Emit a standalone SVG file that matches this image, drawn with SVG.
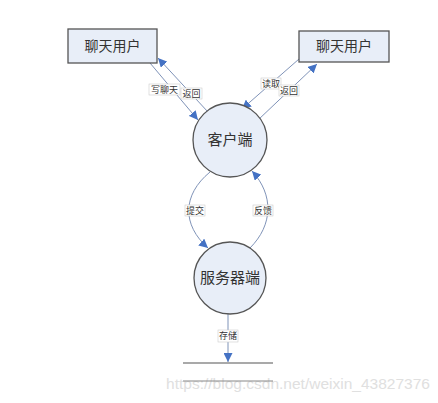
<svg xmlns="http://www.w3.org/2000/svg" width="438" height="403" viewBox="0 0 438 403">
<defs>
<marker id="ah" viewBox="0 0 10 10" refX="10" refY="5" markerWidth="9" markerHeight="9" markerUnits="userSpaceOnUse" orient="auto">
<path d="M0,0 L10,5 L0,10 Z" fill="#4472C4"/>
</marker>
</defs>
<style>
.node{fill:#E8EEF8;stroke:#555;stroke-width:1.3}
.t{font-family:"Liberation Serif","Noto Sans CJK SC",serif;fill:#333;text-anchor:middle;dominant-baseline:central}
.big{font-size:14px}
.lbl{font-size:9px}
.lb{fill:#fff;stroke:#ccc;stroke-width:0.6}
.c{fill:none;stroke:#7F93B8;stroke-width:1;marker-end:url(#ah)}
.wm{font-family:"Liberation Sans",Arial,sans-serif;font-size:14px;fill:#e0e0e0}
</style>
<rect width="438" height="403" fill="#fff"/>
<text class="wm" x="166" y="389" textLength="264" lengthAdjust="spacingAndGlyphs">https://blog.csdn.net/weixin_43827376</text>
<g id="connectors">
<line class="c" x1="150" y1="63" x2="198" y2="120"/>
<line class="c" x1="208" y1="112" x2="158" y2="58"/>
<line class="c" x1="299" y1="59" x2="242" y2="109"/>
<line class="c" x1="258" y1="120" x2="317" y2="64"/>
<path class="c" d="M210,172 C182,195 182,225 208,248"/>
<path class="c" d="M250,248 C273,225 274,195 252,171"/>
<line class="c" x1="228" y1="313" x2="228" y2="362"/>
<rect class="lb" x="149" y="84" width="31" height="11"/>
<text class="t lbl" x="164.5" y="89.5">写聊天</text>
<rect class="lb" x="181" y="88" width="21" height="11"/>
<text class="t lbl" x="191.5" y="93.5">返回</text>
<rect class="lb" x="261" y="78" width="20" height="11"/>
<text class="t lbl" x="271" y="83.5">读取</text>
<rect class="lb" x="279" y="85" width="20" height="11"/>
<text class="t lbl" x="289" y="90.5">返回</text>
<rect class="lb" x="185" y="205" width="20" height="11"/>
<text class="t lbl" x="195" y="210.5">提交</text>
<rect class="lb" x="253" y="205" width="20" height="11"/>
<text class="t lbl" x="263" y="210.5">反馈</text>
<rect class="lb" x="218" y="330" width="20" height="12"/>
<text class="t lbl" x="228" y="336">存储</text>
</g>
<g id="user-left">
<rect class="node" x="68" y="29" width="89" height="34"/>
<text class="t big" x="112.5" y="46">聊天用户</text>
</g>
<g id="user-right">
<rect class="node" x="299" y="31" width="90" height="31"/>
<text class="t big" x="344" y="46.5">聊天用户</text>
</g>
<g id="client">
<circle class="node" cx="230" cy="140" r="37"/>
<text class="t big" x="230" y="140" style="font-size:15px">客户端</text>
</g>
<g id="server">
<circle class="node" cx="230" cy="278" r="36"/>
<text class="t big" x="230" y="278" style="font-size:15px">服务器端</text>
</g>
<g id="datastore">
<line x1="183" y1="363" x2="273" y2="363" stroke="#555" stroke-width="1.2"/>
<line x1="183" y1="381" x2="273" y2="381" stroke="#888" stroke-width="1.2"/>
</g>
</svg>
